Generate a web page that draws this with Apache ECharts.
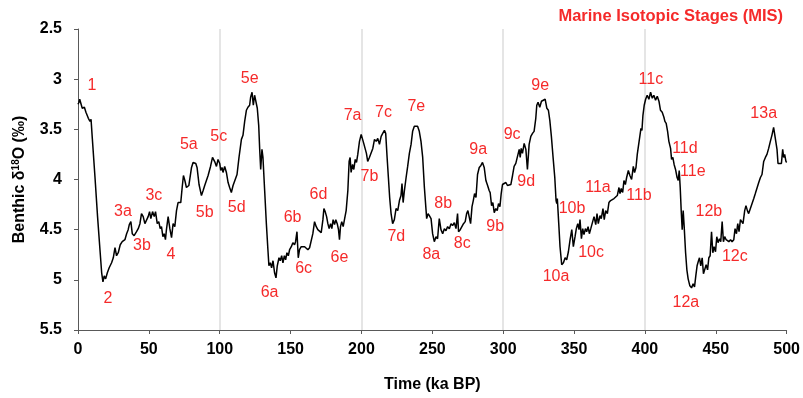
<!DOCTYPE html>
<html>
<head>
<meta charset="utf-8">
<script src="https://cdn.jsdelivr.net/npm/echarts@6/dist/echarts.min.js"></script>
<style>html,body{margin:0;padding:0;background:#fff}#c{width:803px;height:398px}</style>
</head>
<body>
<div id="c"></div>
<script>
// ---- Data ----
const ages = [0.0,0.7,1.2,3.0,4.5,5.6,7.3,8.5,9.2,10.1,12.0,13.8,15.5,16.7,17.6,18.5,19.5,20.7,22.0,23.7,24.9,26.1,27.2,28.4,29.8,31.2,33.1,34.3,35.4,36.2,37.3,38.3,39.6,41.3,42.5,43.7,44.8,46.0,47.2,48.4,49.5,50.5,51.4,52.6,53.8,54.7,55.9,57.0,58.0,58.9,59.9,60.8,61.7,62.4,63.6,64.8,66.0,67.1,68.3,69.5,70.6,72.5,73.5,74.4,75.4,76.5,78.2,80.1,81.2,83.1,84.0,85.4,87.1,88.3,89.4,90.6,91.8,93.5,94.9,95.8,96.7,97.7,98.8,100.0,100.7,101.6,102.3,103.5,104.7,105.9,107.0,108.2,109.4,110.8,112.2,113.6,115.3,116.4,117.6,118.8,119.9,121.1,121.8,122.8,123.7,124.6,125.8,126.5,127.5,128.2,128.9,129.8,130.5,131.7,132.9,134.0,134.7,135.7,136.6,137.6,138.7,139.7,140.6,141.8,142.7,143.7,144.6,145.6,146.5,147.4,148.4,149.3,150.5,151.6,152.8,153.5,154.5,155.4,156.3,157.5,158.7,159.9,161.0,162.2,163.4,164.6,165.7,166.9,168.1,169.2,170.4,171.6,172.8,173.5,174.4,175.4,176.3,177.2,178.2,179.1,180.0,181.0,181.9,182.9,183.8,184.5,185.2,186.1,187.1,188.0,189.2,190.4,191.3,192.0,192.7,193.7,194.6,195.6,196.5,197.4,198.6,199.8,201.0,201.6,202.6,203.5,204.4,205.6,206.8,208.0,209.2,210.4,211.5,212.7,213.9,215.0,216.2,217.1,218.1,219.0,219.9,220.9,222.0,223.2,224.4,225.6,226.8,227.9,228.6,229.4,230.3,231.5,232.6,233.8,235.0,236.1,237.3,238.5,239.6,240.8,242.0,243.2,244.4,245.6,246.0,247.0,247.9,249.1,250.2,251.4,252.6,253.7,254.9,256.1,257.3,258.5,259.6,260.8,262.0,263.2,264.3,265.5,266.7,267.8,268.5,269.7,270.9,272.0,273.2,274.2,275.1,276.1,277.0,278.0,278.9,279.8,280.8,281.9,283.1,284.3,285.4,286.6,287.8,289.0,290.1,290.8,291.8,292.7,293.7,294.8,295.8,296.7,297.7,298.6,299.5,300.7,301.9,303.0,304.2,305.4,306.6,307.7,308.9,310.1,311.3,312.0,312.7,313.6,314.8,316.0,317.1,318.3,319.5,320.7,321.8,323.0,323.7,324.6,325.8,327.0,328.4,329.6,330.8,331.9,332.9,334.0,335.2,336.4,337.3,337.8,338.2,339.2,340.1,341.3,342.5,343.7,344.8,346.0,347.2,348.4,349.5,350.7,351.6,352.6,353.5,354.2,355.2,356.1,357.0,358.0,358.9,359.9,360.8,361.8,363.0,364.1,365.3,366.2,367.1,368.3,369.2,370.4,371.3,372.3,373.5,374.6,375.8,377.0,378.2,379.3,380.5,381.7,382.4,383.3,384.3,385.2,386.2,387.1,388.3,389.4,390.6,391.8,392.7,393.7,394.6,395.6,396.5,397.2,397.9,398.6,399.5,400.5,401.6,402.8,404.0,405.2,406.3,407.5,408.7,409.9,411.0,412.2,413.4,414.1,415.0,416.0,416.9,418.1,418.8,419.7,420.6,421.6,422.7,423.5,424.2,424.9,425.6,426.3,427.0,427.7,428.7,429.6,430.5,431.7,432.9,434.0,435.0,435.9,436.8,437.8,438.5,439.4,440.4,441.3,442.3,443.2,444.2,445.1,446.0,447.0,447.9,448.8,449.8,450.7,451.6,452.6,453.5,454.5,455.4,456.3,457.3,458.2,459.2,460.4,461.5,462.7,463.6,464.6,465.5,466.4,467.4,468.3,469.2,470.4,471.3,472.3,473.2,474.4,475.6,476.8,477.9,479.1,480.3,481.5,482.6,483.8,485.0,486.1,487.3,488.5,489.6,490.8,492.0,493.2,493.9,495.1,496.3,497.2,497.9,498.6,499.5,500.0];
const d18O = [3.25,3.23,3.20,3.29,3.28,3.33,3.39,3.42,3.40,3.59,3.98,4.37,4.70,4.93,5.02,4.96,4.99,4.93,4.88,4.83,4.78,4.68,4.76,4.73,4.65,4.62,4.60,4.54,4.50,4.45,4.42,4.54,4.56,4.52,4.49,4.44,4.34,4.37,4.44,4.45,4.37,4.32,4.39,4.32,4.37,4.32,4.44,4.42,4.49,4.47,4.57,4.54,4.60,4.50,4.37,4.49,4.58,4.44,4.47,4.31,4.23,4.23,4.08,3.96,4.01,4.08,4.06,3.88,3.83,3.84,3.88,4.05,4.16,4.11,4.06,4.05,3.96,3.87,3.78,3.77,3.83,3.87,3.80,3.84,3.91,3.88,3.93,3.87,3.93,4.03,4.08,4.13,4.06,4.05,3.95,3.78,3.60,3.56,3.42,3.31,3.28,3.26,3.18,3.13,3.26,3.16,3.17,3.29,3.46,3.70,3.90,3.70,3.78,4.11,4.44,4.70,4.86,4.83,4.88,4.81,4.93,4.98,4.86,4.78,4.81,4.76,4.83,4.76,4.80,4.73,4.76,4.70,4.67,4.63,4.65,4.62,4.52,4.78,4.70,4.67,4.68,4.67,4.68,4.70,4.68,4.67,4.54,4.42,4.47,4.50,4.51,4.53,4.40,4.29,4.32,4.37,4.44,4.49,4.44,4.49,4.40,4.45,4.40,4.44,4.50,4.60,4.47,4.42,4.47,4.40,4.31,4.11,3.82,3.78,3.93,3.85,3.90,3.80,3.83,3.75,3.62,3.55,3.56,3.64,3.63,3.74,3.82,3.78,3.78,3.69,3.60,3.62,3.59,3.65,3.57,3.54,3.51,3.54,3.78,3.98,4.18,4.34,4.44,4.40,4.29,4.31,4.21,4.16,4.04,4.23,4.11,3.98,3.87,3.74,3.65,3.52,3.47,3.46,3.47,3.52,3.62,3.78,4.08,4.31,4.39,4.34,4.36,4.39,4.54,4.62,4.57,4.59,4.39,4.50,4.54,4.49,4.51,4.47,4.49,4.44,4.46,4.43,4.49,4.34,4.52,4.50,4.49,4.44,4.42,4.34,4.31,4.31,4.44,4.27,4.21,4.14,4.18,3.95,3.88,3.86,3.83,3.88,4.01,4.06,4.11,4.13,4.26,4.23,4.33,4.29,4.31,4.24,4.27,4.14,4.05,4.06,4.03,4.06,4.07,4.05,3.96,3.87,3.84,3.77,3.70,3.78,3.69,3.74,3.64,3.70,3.90,3.65,3.57,3.54,3.52,3.39,3.26,3.23,3.28,3.22,3.23,3.20,3.29,3.31,3.41,3.57,3.78,3.98,4.21,4.24,4.19,4.44,4.67,4.85,4.83,4.78,4.80,4.72,4.60,4.50,4.67,4.57,4.49,4.44,4.50,4.40,4.59,4.49,4.55,4.49,4.52,4.47,4.54,4.49,4.49,4.37,4.45,4.34,4.44,4.36,4.39,4.29,4.40,4.31,4.34,4.23,4.21,4.20,4.19,4.18,4.16,4.08,4.14,4.09,4.13,4.01,4.05,3.98,3.91,3.96,4.00,3.87,3.93,3.88,3.75,3.74,3.56,3.49,3.51,3.36,3.26,3.20,3.16,3.20,3.13,3.19,3.16,3.21,3.17,3.22,3.31,3.33,3.38,3.42,3.44,3.52,3.62,3.69,3.80,3.78,3.85,3.90,3.98,4.01,3.91,4.08,4.31,4.50,4.31,4.47,4.73,4.90,4.99,5.06,5.08,5.04,5.07,4.96,4.86,4.81,4.78,4.86,4.78,4.94,4.93,4.85,4.90,4.78,4.76,4.52,4.73,4.67,4.72,4.57,4.63,4.59,4.62,4.42,4.62,4.57,4.60,4.59,4.62,4.60,4.62,4.60,4.49,4.54,4.44,4.52,4.40,4.39,4.44,4.31,4.26,4.31,4.34,4.29,4.24,4.19,4.14,4.13,4.03,3.98,3.95,3.82,3.78,3.75,3.69,3.62,3.56,3.48,3.59,3.70,3.84,3.84,3.84,3.70,3.78,3.75,3.82,3.83];

// Stage labels (text, age, δ18O position of the label)
const stageNames = ['1','2','3a','3b','3c','4','5a','5b','5c','5d','5e','6a','6b','6c','6d','6e','7a','7b','7c','7d','7e','8a','8b','8c','9a','9b','9c','9d','9e','10a','10b','10c','11a','11b','11c','11d','11e','12a','12b','12c','13a'];
const stageX = [9.9,21.1,31.7,45.1,53.5,65.5,78.2,89.4,99.3,112,121.1,135.2,151.4,159.2,169.7,184.5,193.7,205.6,215.5,224.6,238.7,249.3,257.7,271.1,282.4,294.4,306.3,316.2,326.1,337.3,348.6,362,366.9,395.8,404.2,428.2,433.8,428.9,445.1,463.4,483.8];
const stageY = [3.06,5.19,4.32,4.66,4.16,4.75,3.65,4.33,3.57,4.28,2.99,5.13,4.38,4.89,4.15,4.78,3.36,3.97,3.33,4.57,3.27,4.75,4.24,4.64,3.70,4.47,3.55,4.02,3.06,4.97,4.29,4.73,4.08,4.16,3.00,3.69,3.92,5.23,4.32,4.77,3.34];

const xTicks = {min: 0, max: 500, step: 50};
const yTicks = {min: 2.5, max: 5.5, step: 0.5};
const gridLinesStep = 100;

// ---- Chart ----
const RED = '#f52a2a';
const FONT = 'Liberation Sans, Arial, sans-serif';
const chart = echarts.init(document.getElementById('c'), null, {renderer: 'canvas'});
chart.setOption({
  animation: false,
  backgroundColor: '#fff',
  title: {
    text: 'Marine Isotopic Stages (MIS)',
    right: 15, top: 3,
    textStyle: {color: RED, fontFamily: FONT, fontWeight: 'bold', fontSize: 16.5}
  },
  grid: {left: 78, right: 15, top: 29, bottom: 63, containLabel: false},
  xAxis: [{
    type: 'value', min: xTicks.min, max: xTicks.max, interval: xTicks.step,
    name: 'Time (ka BP)', nameLocation: 'middle', nameGap: 47,
    nameTextStyle: {fontFamily: FONT, fontWeight: 'bold', fontSize: 16, color: '#000'},
    axisLine: {show: true, lineStyle: {color: '#595959', width: 1}},
    axisTick: {show: true, length: 4, lineStyle: {color: '#595959'}},
    axisLabel: {fontFamily: FONT, fontWeight: 'bold', fontSize: 16, color: '#000', margin: 12},
    splitLine: {show: false}
  }, {
    type: 'value', min: xTicks.min, max: xTicks.max, interval: gridLinesStep,
    position: 'bottom', gridIndex: 0,
    axisLine: {show: false}, axisTick: {show: false}, axisLabel: {show: false},
    splitLine: {show: true, showMinLine: false, showMaxLine: false, lineStyle: {color: '#dcdcdc', width: 1.5}}
  }],
  yAxis: {
    type: 'value', inverse: true, min: yTicks.min, max: yTicks.max, interval: yTicks.step,
    name: '{a|Benthic δ}{s|18}{a|O (‰)}', nameLocation: 'middle', nameGap: 50, nameRotate: 90,
    nameTextStyle: {
      fontFamily: FONT, fontWeight: 'bold', fontSize: 16, color: '#000',
      rich: {
        a: {fontFamily: FONT, fontWeight: 'bold', fontSize: 16, color: '#000'},
        s: {fontFamily: FONT, fontWeight: 'bold', fontSize: 10, color: '#000', padding: [0, 0, 7, 0]}
      }
    },
    axisLine: {show: true, lineStyle: {color: '#595959', width: 1}},
    axisTick: {show: true, length: 4, lineStyle: {color: '#595959'}},
    axisLabel: {fontFamily: FONT, fontWeight: 'bold', fontSize: 16, color: '#000', margin: 16},
    splitLine: {show: false}
  },
  series: [{
    type: 'line',
    xAxisIndex: 0,
    data: ages.map((a, i) => [a, d18O[i]]),
    showSymbol: false,
    symbol: 'none',
    lineStyle: {color: '#000', width: 1.5},
    z: 3
  }, {
    type: 'scatter',
    xAxisIndex: 0,
    symbolSize: 1,
    itemStyle: {color: 'transparent', opacity: 1},
    data: stageNames.map((n, i) => ({name: n, value: [stageX[i], stageY[i]]})),
    label: {
      show: true, position: 'inside', formatter: p => p.name, opacity: 1,
      color: RED, fontFamily: FONT, fontSize: 16
    },
    silent: true,
    z: 4
  }]
});
</script>
</body>
</html>
